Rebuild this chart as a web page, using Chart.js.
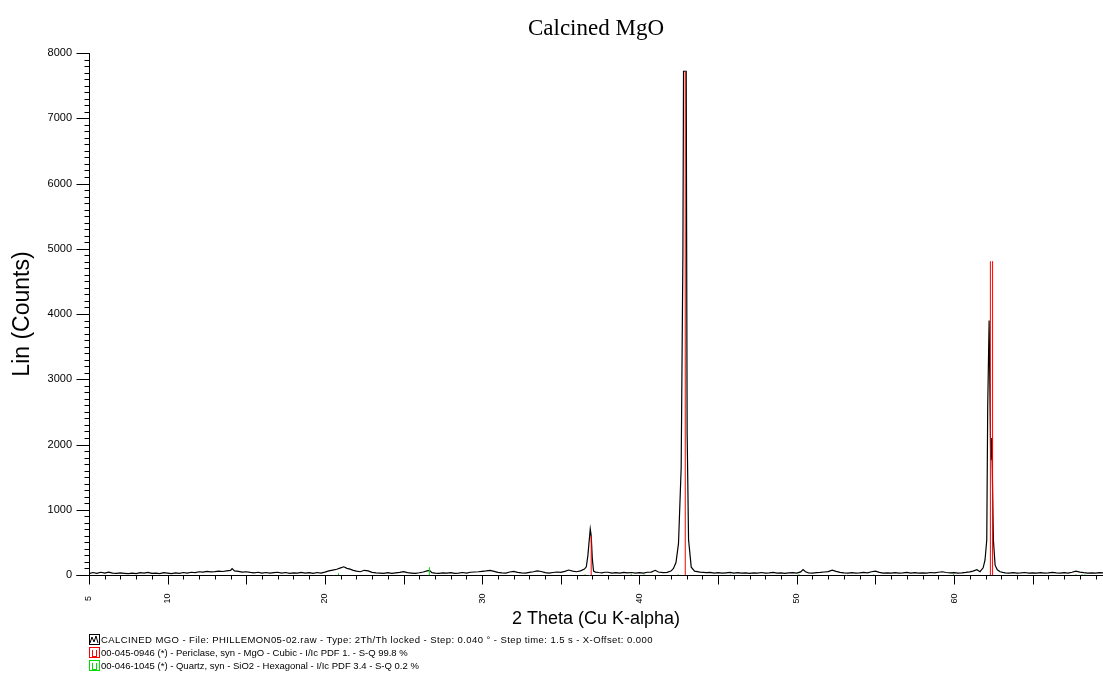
<!DOCTYPE html>
<html>
<head>
<meta charset="utf-8">
<script src="https://cdn.jsdelivr.net/npm/chart.js@4.4.1/dist/chart.umd.min.js"></script>
<style>
body{margin:0;background:#fff;}
#wrap{position:relative;width:1103px;height:673px;overflow:hidden;}
#xrd{position:absolute;left:0;top:0;}
#title{position:absolute;left:89px;width:1014px;top:14px;text-align:center;font-family:"Liberation Serif","Times New Roman",serif;font-size:23px;line-height:28px;color:#000;}
#legend{position:absolute;left:89px;top:633px;font-family:"Liberation Sans",Arial,sans-serif;font-size:9.5px;color:#000;}
.row{height:13px;line-height:13px;white-space:nowrap;display:flex;align-items:center;}
.row svg{margin-right:1px;flex:none;}
#leg0{letter-spacing:0.42px;}
</style>
</head>
<body>
<div id="wrap">
<canvas id="xrd" width="1103" height="673"></canvas>
<div id="title">Calcined MgO</div>
<div id="legend">
  <div class="row"><svg width="11" height="11"><rect x="0.5" y="0.5" width="10" height="10" fill="none" stroke="#000"/><polyline points="1,9 3,3 5,8 7,2 9,9" fill="none" stroke="#000" stroke-width="1"/></svg><span id="leg0"></span></div>
  <div class="row"><svg width="11" height="11"><rect x="0.5" y="0.5" width="10" height="10" fill="none" stroke="#ff0000"/><line x1="3.5" y1="3" x2="3.5" y2="10" stroke="#ff0000"/><line x1="7.5" y1="3" x2="7.5" y2="10" stroke="#ff0000"/><line x1="3" y1="9.5" x2="8" y2="9.5" stroke="#ff0000"/></svg><span id="leg1"></span></div>
  <div class="row"><svg width="11" height="11"><rect x="0.5" y="0.5" width="10" height="10" fill="none" stroke="#00dd00"/><line x1="3.5" y1="3" x2="3.5" y2="10" stroke="#00dd00"/><line x1="7.5" y1="3" x2="7.5" y2="10" stroke="#00dd00"/><line x1="3" y1="9.5" x2="8" y2="9.5" stroke="#00dd00"/></svg><span id="leg2"></span></div>
</div>
</div>
<script>
var twoTheta = [
  5.00,5.25,5.50,5.75,6.00,6.25,6.50,6.75,7.00,7.25,7.50,7.75,8.00,8.25,8.50,8.75,9.00,9.25,9.50,9.75,
  10.00,10.25,10.50,10.75,11.00,11.25,11.50,11.75,12.00,12.25,12.50,12.75,13.00,13.25,13.50,13.75,14.00,14.10,14.25,14.50,14.75,
  15.00,15.25,15.50,15.75,16.00,16.25,16.50,16.75,17.00,17.25,17.50,17.75,18.00,18.25,18.50,18.75,19.00,19.25,19.50,19.75,
  20.00,20.25,20.50,20.75,21.00,21.20,21.40,21.60,21.80,22.00,22.25,22.50,22.75,23.00,23.25,23.50,23.75,24.00,24.25,24.50,24.75,
  25.00,25.25,25.50,25.75,26.00,26.25,26.50,26.65,26.80,27.00,27.25,27.50,27.75,28.00,28.25,28.50,28.75,29.00,29.25,29.50,29.75,
  30.00,30.25,30.50,30.75,31.00,31.25,31.50,31.75,32.00,32.25,32.50,32.75,33.00,33.25,33.50,33.75,34.00,34.25,34.50,34.75,
  35.00,35.25,35.50,35.75,36.00,36.25,36.50,36.62,36.72,36.80,36.87,36.93,37.00,37.08,37.20,37.40,37.60,37.80,
  38.00,38.25,38.50,38.75,39.00,39.25,39.50,39.75,40.00,40.25,40.50,40.75,41.00,41.20,41.50,41.75,
  42.00,42.16,42.32,42.48,42.65,42.76,42.80,42.97,43.03,43.12,43.29,43.50,43.86,
  44.25,44.50,44.75,45.00,45.25,45.50,45.75,46.00,46.25,46.50,46.75,47.00,47.25,47.50,47.75,48.00,48.25,48.50,48.75,49.00,49.25,49.50,49.75,
  50.00,50.25,50.40,50.55,50.75,51.00,51.25,51.50,51.75,52.00,52.25,52.50,52.75,53.00,53.25,53.50,53.75,54.00,54.25,54.50,54.75,
  55.00,55.25,55.50,55.75,56.00,56.25,56.50,56.75,57.00,57.25,57.50,57.75,58.00,58.25,58.50,58.75,59.00,59.25,59.50,59.75,
  60.00,60.25,60.50,60.75,61.00,61.20,61.45,61.65,61.85,61.97,62.08,62.14,62.23,62.33,62.40,62.50,62.61,62.75,62.93,
  63.10,63.25,63.50,63.75,64.00,64.25,64.50,64.75,65.00,65.25,65.50,65.75,66.00,66.25,66.50,66.75,67.00,67.25,67.50,67.75,
  68.00,68.25,68.50,68.75,69.00,69.25,69.47
];
var counts = [
  20,38,26,42,30,45,28,24,32,26,20,30,22,36,28,40,25,30,22,36,
  28,20,32,26,38,30,42,36,50,44,55,48,52,60,54,62,70,98,62,55,45,
  50,40,34,42,30,38,28,35,42,30,38,25,32,28,40,30,35,26,38,30,
  45,62,76,88,110,126,102,90,72,60,50,72,64,40,34,30,26,36,25,32,40,
  52,36,30,25,34,46,62,72,36,30,24,32,28,36,25,30,38,30,42,46,50,
  56,62,72,56,40,34,30,46,56,40,34,30,40,50,62,54,36,30,38,46,
  40,56,76,60,50,64,90,125,300,520,705,600,250,60,45,38,34,42,
  42,30,36,28,40,32,38,30,36,28,42,45,72,46,35,40,
  60,100,190,480,1640,4900,7720,7720,2170,540,120,60,45,
  35,40,30,36,28,34,40,30,36,28,32,26,34,30,38,28,32,40,30,34,26,32,36,
  30,48,82,50,34,30,36,40,46,52,74,56,40,34,30,36,28,32,40,34,50,
  58,40,30,34,28,36,30,34,40,30,36,28,34,30,38,34,42,50,38,32,
  36,30,34,40,48,60,80,50,110,230,540,2580,3900,1760,2100,540,150,80,50,
  40,34,30,36,28,32,38,30,34,28,36,30,34,40,32,28,36,30,42,58,
  44,36,30,34,28,36,32
];

// reference patterns (stick positions and heights)
var periclasePos = [36.93, 42.91, 62.31, 62.45];
var periclaseInt = [600, 7720, 4810, 4810];
var quartzPos = [20.86, 26.64, 36.54, 39.47, 40.29, 42.45, 45.79, 50.14, 54.87, 59.96, 64.03, 67.74, 68.14, 68.32];
var quartzInt = [28, 120, 12, 14, 10, 10, 8, 16, 8, 14, 6, 10, 12, 10];

var xLabels = [5, 10, 20, 30, 40, 50, 60];
var yTicks = [0, 1000, 2000, 3000, 4000, 5000, 6000, 7000, 8000];

var legendText = [
  'CALCINED MGO - File: PHILLEMON05-02.raw - Type: 2Th/Th locked - Step: 0.040 ° - Step time: 1.5 s - X-Offset: 0.000',
  '00-045-0946 (*) - Periclase, syn - MgO - Cubic - I/Ic PDF 1. - S-Q 99.8 %',
  '00-046-1045 (*) - Quartz, syn - SiO2 - Hexagonal - I/Ic PDF 3.4 - S-Q 0.2 %'
];

document.getElementById('leg0').textContent = legendText[0];
document.getElementById('leg1').textContent = legendText[1];
document.getElementById('leg2').textContent = legendText[2];

function sticks(pos, h) {
  var out = [];
  for (var i = 0; i < pos.length; i++) {
    out.push({x: pos[i], y: 0});
    out.push({x: pos[i], y: h[i]});
    out.push({x: pos[i], y: null});
  }
  return out;
}

var scan = twoTheta.map(function (t, i) { return {x: t, y: counts[i]}; });

// axis lines, ticks and rotated x labels drawn the way the diffractometer software does
var axisPlugin = {
  id: 'axisTicks',
  afterDraw: function (chart) {
    var c = chart.ctx, a = chart.chartArea;
    var xs = chart.scales.x, ys = chart.scales.y;
    c.save();
    c.strokeStyle = '#000';
    c.lineWidth = 1;
    c.beginPath();
    var lx = Math.round(a.left) + 0.5, by = Math.round(a.bottom) + 0.5;
    c.moveTo(lx, a.top); c.lineTo(lx, by);
    c.moveTo(lx - 13, by); c.lineTo(a.right, by);
    for (var v = 0; v <= 8000; v += 100) {
      var py = Math.round(ys.getPixelForValue(v)) + 0.5;
      var len = (v % 1000 === 0) ? 13 : 5;
      c.moveTo(lx - len, py); c.lineTo(lx, py);
    }
    for (var d = 5; d <= 69; d++) {
      var px = Math.round(xs.getPixelForValue(d)) + 0.5;
      var l2 = (d % 5 === 0) ? 9 : 4;
      c.moveTo(px, by); c.lineTo(px, by + l2);
    }
    c.stroke();
    c.fillStyle = '#000';
    c.font = '9px "Liberation Sans", Arial, sans-serif';
    c.textAlign = 'center';
    c.textBaseline = 'middle';
    xLabels.forEach(function (t) {
      var px = xs.getPixelForValue(t);
      c.save();
      c.translate(px, by + 23);
      c.rotate(-Math.PI / 2);
      c.fillText(String(t), 0, 0);
      c.restore();
    });
    c.restore();
  }
};

var ctx = document.getElementById('xrd').getContext('2d');
var chart = new Chart(ctx, {
  type: 'line',
  data: {
    datasets: [
      {
        label: 'Periclase',
        data: sticks(periclasePos, periclaseInt),
        borderColor: '#ff0000',
        borderWidth: 1,
        spanGaps: false
      },
      {
        label: 'Quartz',
        data: sticks(quartzPos, quartzInt),
        borderColor: '#00dd00',
        borderWidth: 1,
        spanGaps: false
      },
      {
        label: 'CALCINED MGO',
        data: scan,
        borderColor: '#000000',
        borderWidth: 1.2
      }
    ]
  },
  options: {
    responsive: false,
    animation: false,
    layout: {padding: {top: 53, right: 0, bottom: 39, left: 0}},
    plugins: {
      legend: {display: false},
      tooltip: {enabled: false},
      title: {display: false}
    },
    elements: {
      line: {tension: 0, fill: false},
      point: {radius: 0}
    },
    scales: {
      x: {
        type: 'linear',
        min: 5,
        max: 69.47,
        afterFit: function (s) { s.height = 59; },
        grid: {display: false, drawTicks: false},
        border: {display: false},
        ticks: {display: false},
        title: {
          display: true,
          text: '2 Theta (Cu K-alpha)',
          color: '#000',
          font: {family: '"Liberation Sans", Arial, sans-serif', size: 18},
          padding: {top: 0, bottom: 4}
        }
      },
      y: {
        type: 'linear',
        min: 0,
        max: 8000,
        afterFit: function (s) { s.width = 89; },
        afterBuildTicks: function (s) { s.ticks = yTicks.map(function (v) { return {value: v}; }); },
        grid: {display: false, drawTicks: false},
        border: {display: false},
        ticks: {
          padding: 17,
          color: '#000',
          font: {family: '"Liberation Sans", Arial, sans-serif', size: 11},
          callback: function (v) { return String(v); }
        },
        title: {
          display: true,
          text: 'Lin (Counts)',
          color: '#000',
          font: {family: '"Liberation Sans", Arial, sans-serif', size: 23},
          padding: {top: 9, bottom: 0}
        }
      }
    }
  },
  plugins: [axisPlugin]
});
</script>
</body>
</html>
